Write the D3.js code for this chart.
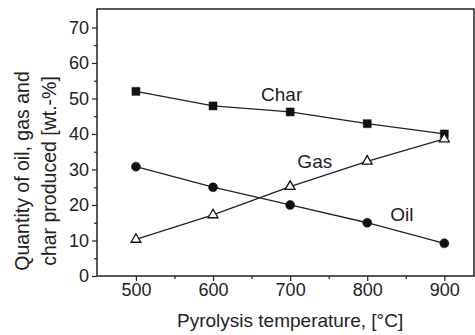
<!DOCTYPE html>
<html>
<head>
<meta charset="utf-8">
<script src="https://cdn.jsdelivr.net/npm/d3@7"></script>
<style>
  body { margin: 0; background: #fff; }
  text { font-family: "Liberation Sans", Arial, sans-serif; fill: #222; }
</style>
</head>
<body>
<div id="chart-area"></div>
<script>
// data
const temps = [500, 600, 700, 800, 900];
const charVals = [52, 47.9, 46.2, 42.9, 40];
const gasVals = [10.3, 17.2, 25.2, 32.3, 38.6];
const oilVals = [30.8, 25, 20, 15, 9.2];
const xTicks = [500, 600, 700, 800, 900];
const yTicks = [0, 10, 20, 30, 40, 50, 60, 70];

const W = 475, H = 335;
const margin = { left: 97, right: 1, top: 9, bottom: 59 };
const width = W - margin.left - margin.right;
const height = H - margin.top - margin.bottom;

const svg = d3.select("#chart-area").append("svg")
    .attr("width", W)
    .attr("height", H);

const g = svg.append("g")
    .attr("transform", "translate(" + margin.left + "," + margin.top + ")");

const x = d3.scaleLinear().domain([449.5, 938.5]).range([0, width]);
const y = d3.scaleLinear().domain([0, 75.2]).range([height, 0]);

// frame
g.append("rect")
    .attr("width", width).attr("height", height)
    .attr("fill", "none").attr("stroke", "#222").attr("stroke-width", 1.5);

// x axis, major + minor ticks
g.append("g")
    .attr("transform", "translate(0," + height + ")")
    .call(d3.axisBottom(x).tickValues(d3.range(550, 950, 100)).tickSize(3).tickFormat(""))
    .call(a => a.select(".domain").remove());
const xAxis = g.append("g")
    .attr("transform", "translate(0," + height + ")")
    .call(d3.axisBottom(x).tickValues(xTicks).tickSize(5).tickPadding(2));
xAxis.select(".domain").remove();

// y axis
g.append("g")
    .call(d3.axisLeft(y).tickValues(d3.range(5, 75, 10)).tickSize(3).tickFormat(""))
    .call(a => a.select(".domain").remove());
const yAxis = g.append("g")
    .call(d3.axisLeft(y).tickValues(yTicks).tickSize(5).tickPadding(3));
yAxis.select(".domain").remove();

svg.selectAll(".tick line").attr("stroke", "#222").attr("stroke-width", 1.2);
svg.selectAll(".tick text")
    .style("font-size", "18px")
    .style("font-family", "Liberation Sans, Arial, sans-serif")
    .attr("fill", "#222");

// axis titles
svg.append("text")
    .attr("x", margin.left + x(700))
    .attr("y", 327)
    .attr("text-anchor", "middle")
    .style("font-size", "19px")
    .text("Pyrolysis temperature, [°C]");

const yTitle = svg.append("text")
    .attr("transform", "translate(0,171) rotate(-90)")
    .attr("text-anchor", "middle")
    .style("font-size", "19.5px");
yTitle.append("tspan").attr("x", 0).attr("y", 29).text("Quantity of oil, gas and");
yTitle.append("tspan").attr("x", 0).attr("y", 56).text("char produced [wt.-%]");

// series
const series = [
    { name: "Char", values: charVals, marker: "square" },
    { name: "Gas", values: gasVals, marker: "triangle" },
    { name: "Oil", values: oilVals, marker: "circle" }
];

const line = d3.line().x(d => x(d[0])).y(d => y(d[1]));

series.forEach(s => {
    const pts = temps.map((t, i) => [t, s.values[i]]);
    g.append("path")
        .datum(pts)
        .attr("fill", "none")
        .attr("stroke", "#222")
        .attr("stroke-width", 1.3)
        .attr("d", line);

    const sym = s.marker === "square" ? d3.symbolSquare
        : s.marker === "triangle" ? d3.symbolTriangle : d3.symbolCircle;
    const size = s.marker === "square" ? 64 : s.marker === "triangle" ? 42 : 64;

    g.selectAll(".m-" + s.name)
        .data(pts)
        .enter().append("path")
        .attr("transform", d => "translate(" + x(d[0]) + "," + y(d[1]) + ")")
        .attr("d", d3.symbol().type(sym).size(size))
        .attr("fill", s.marker === "triangle" ? "#fff" : "#111")
        .attr("stroke", "#111")
        .attr("stroke-width", s.marker === "triangle" ? 1.3 : 0.5);
});

// series labels
const labels = [
    { text: "Char", x: 689, y: 49.3 },
    { text: "Gas", x: 732, y: 30.4 },
    { text: "Oil", x: 845, y: 15.4 }
];
g.selectAll(".lbl")
    .data(labels)
    .enter().append("text")
    .attr("x", d => x(d.x))
    .attr("y", d => y(d.y))
    .attr("text-anchor", "middle")
    .style("font-size", "19px")
    .text(d => d.text);
</script>
</body>
</html>
